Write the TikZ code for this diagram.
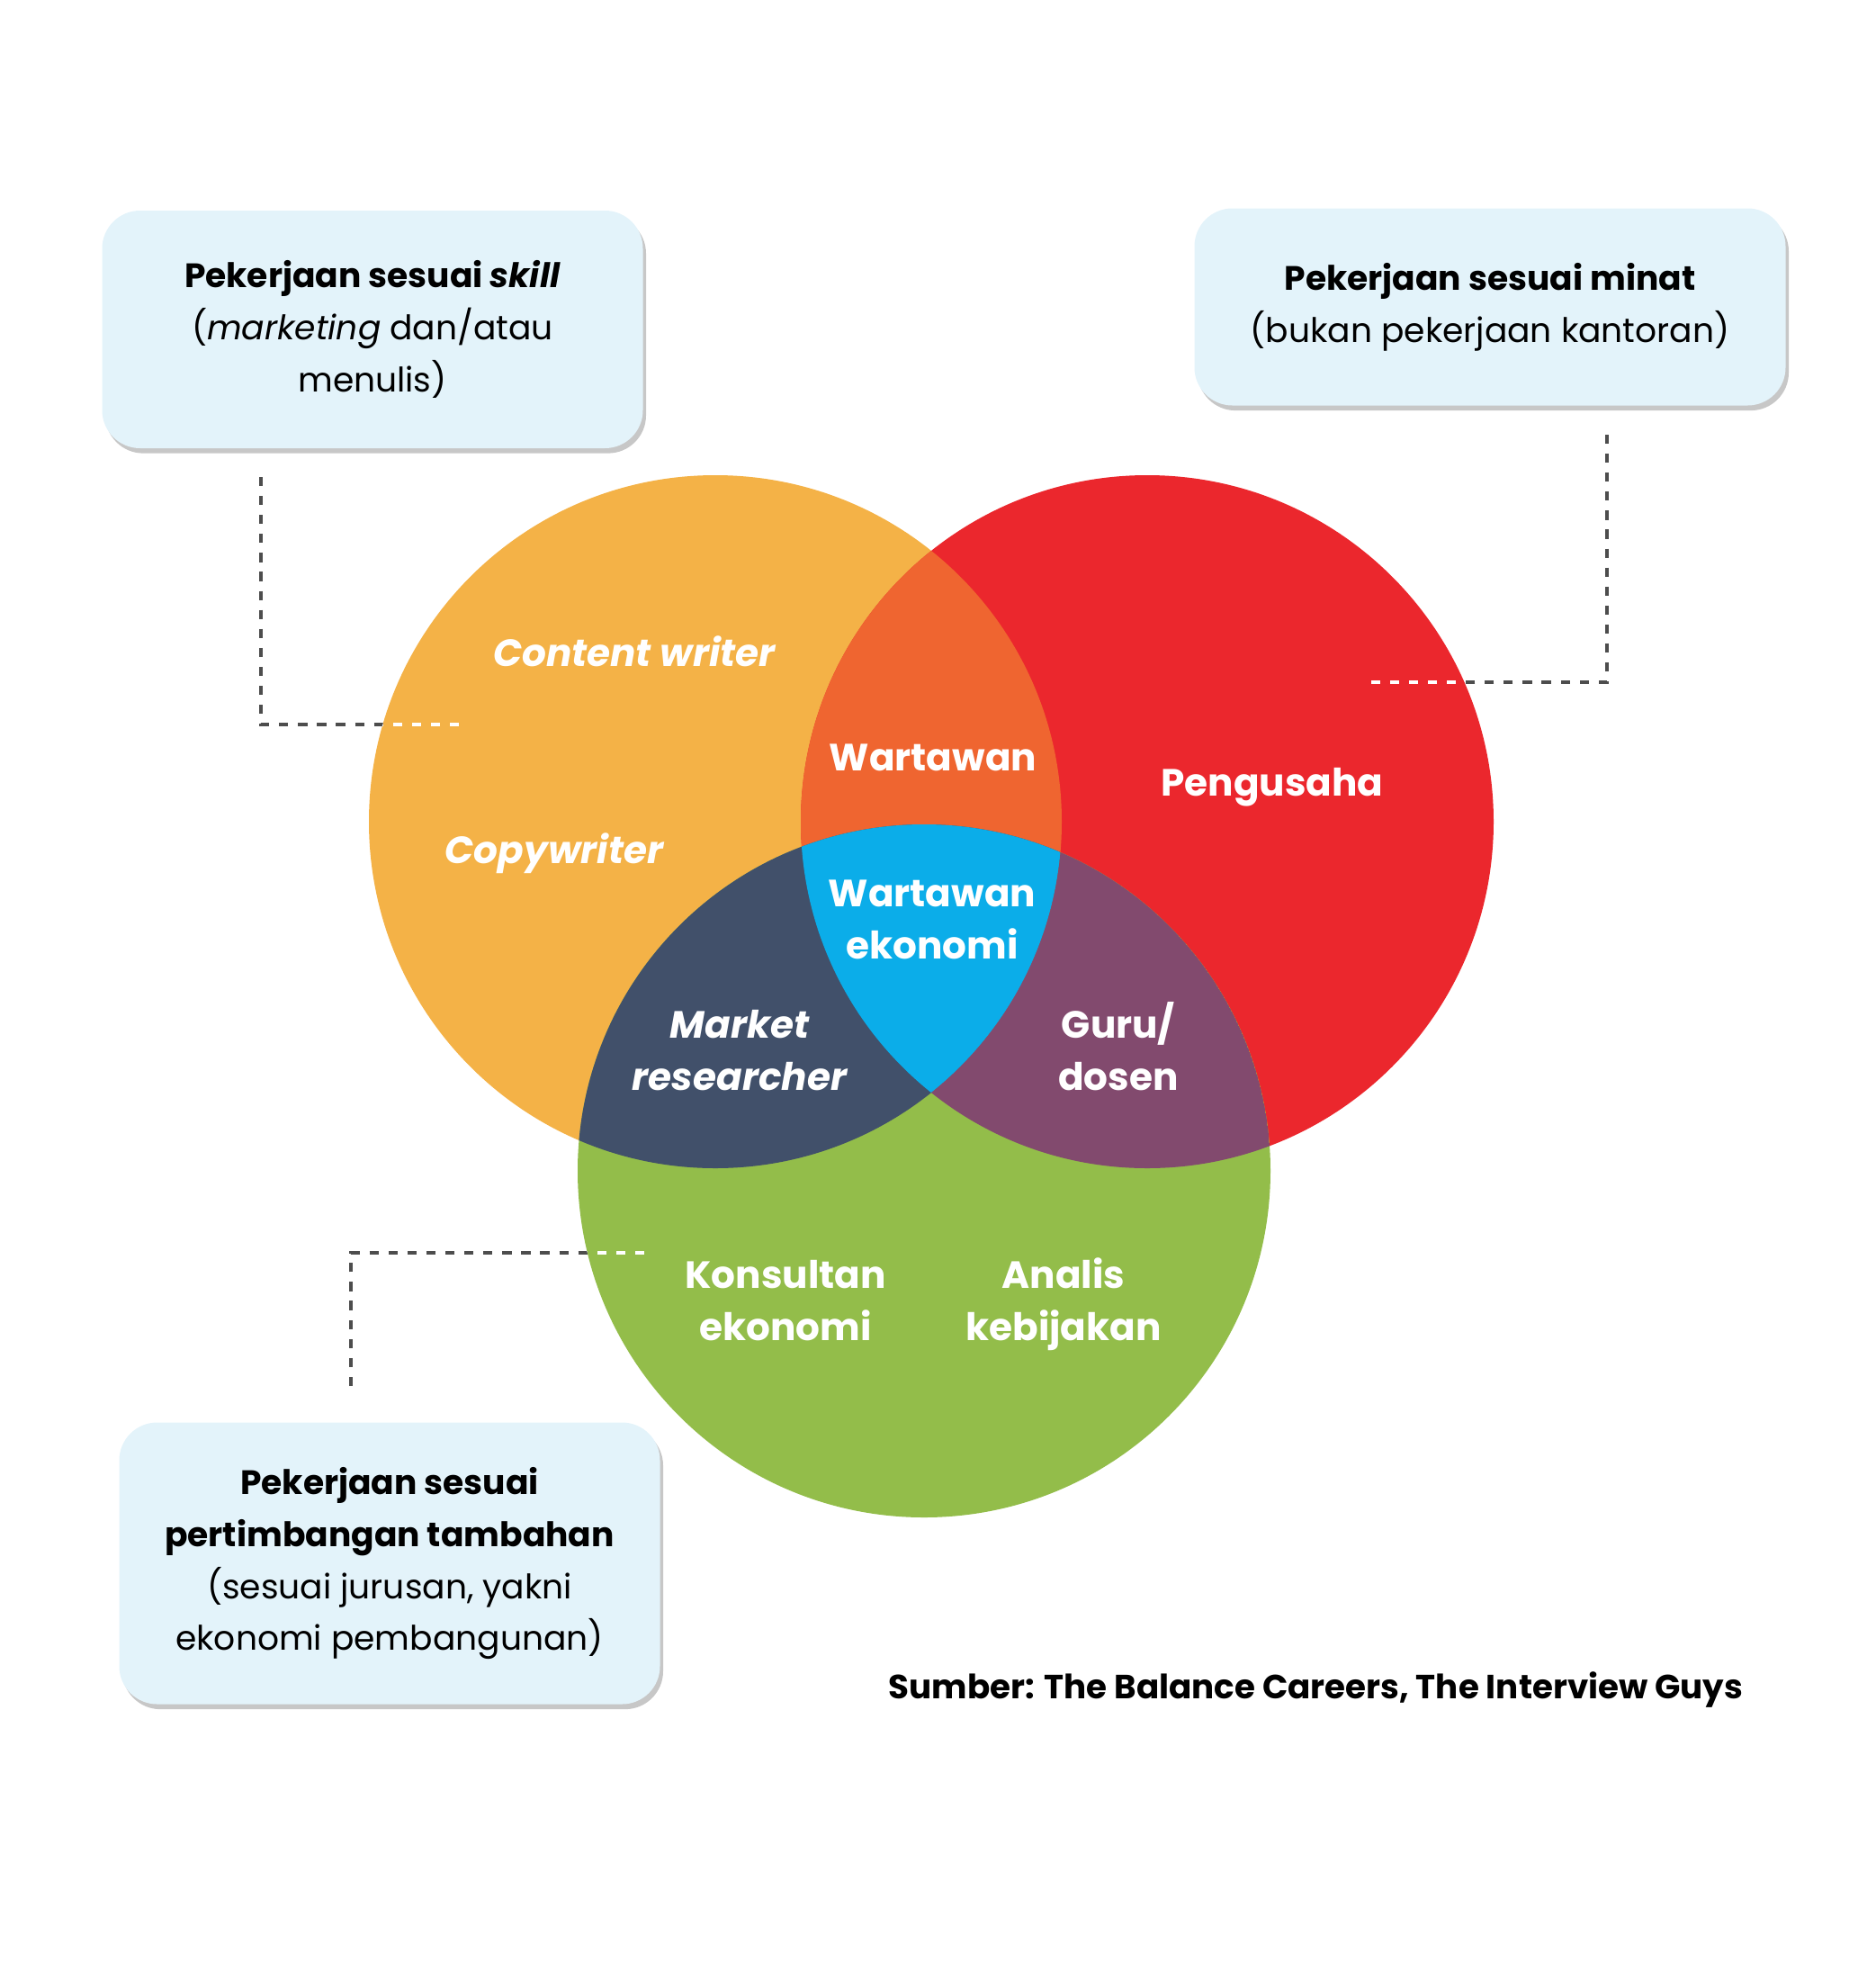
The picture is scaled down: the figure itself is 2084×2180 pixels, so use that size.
\documentclass[tikz,border=0pt]{standalone}
\usepackage{fontspec}
\setmainfont{Poppins}
\usetikzlibrary{shadows}

\definecolor{skillorange}{HTML}{F4B247}
\definecolor{minatred}{HTML}{EB272D}
\definecolor{jurusangreen}{HTML}{93BD4A}
\definecolor{skillminat}{HTML}{EF6530}
\definecolor{skilljurusan}{HTML}{41506A}
\definecolor{minatjurusan}{HTML}{824A6E}
\definecolor{allthree}{HTML}{0BADE9}
\definecolor{boxblue}{HTML}{E3F3FA}
\definecolor{dashgrey}{HTML}{4D4D4D}

\begin{document}
\begin{tikzpicture}[x=0.1mm,y=-0.1mm]
    \tikzstyle{infobox} = [fill=boxblue, rounded corners=12pt, align=center, inner sep=0pt,
        font=\fontsize{10.7}{16.5}\selectfont,
        drop shadow={shadow xshift=1pt, shadow yshift=-1.6pt, opacity=0.22, fill=black}]
    \tikzstyle{venntext} = [text=white, align=center, font=\bfseries\fontsize{12}{16.5}\selectfont]
    \tikzstyle{vennitalic} = [venntext, font=\bfseries\itshape\fontsize{12}{16.5}\selectfont]
    \tikzstyle{leader} = [dashgrey, line width=1pt, dash pattern=on 2.9pt off 3.1pt]
    \tikzstyle{leaderin} = [white, line width=1pt, dash pattern=on 2.9pt off 3.1pt]
    \useasboundingbox (0,0) rectangle (2084,2180);

    % Circle centres
    \coordinate (Skill) at (795,913);
    \coordinate (Minat) at (1275,913);
    \coordinate (Jurusan) at (1027,1301);

    % Three circles
    \fill [skillorange] (Skill) circle (385);
    \fill [minatred] (Minat) circle (385);
    \fill [jurusangreen] (Jurusan) circle (385);

    % Overlaps
    \begin{scope}
        \clip (Skill) circle (385);
        \fill [skillminat] (Minat) circle (385);
        \fill [skilljurusan] (Jurusan) circle (385);
        \clip (Minat) circle (385);
        \fill [allthree] (Jurusan) circle (385);
    \end{scope}
    \begin{scope}
        \clip (Minat) circle (385);
        \clip (Jurusan) circle (385);
        \clip (795,0) rectangle (2084,2180);
        \begin{scope}[even odd rule]
            \clip (Skill) circle (385) (0,0) rectangle (2084,2180);
            \fill [minatjurusan] (Jurusan) circle (385);
        \end{scope}
    \end{scope}

    % Labels in the circles
    \node [vennitalic] (ContentWriter) at (705,724) {Content writer};
    \node [vennitalic] (Copywriter) at (616,948) {Copywriter};
    \node [venntext] (Wartawan) at (1037,842) {Wartawan};
    \node [venntext] (Pengusaha) at (1414,875) {Pengusaha};
    \node [venntext] (WartawanEko) at (1036,1022) {Wartawan\\ekonomi};
    \node [vennitalic] (Market) at (822,1167) {Market\\researcher};
    \node [venntext] (Guru) at (1243,1163) {Guru/\\dosen};
    \node [venntext] (Konsultan) at (873,1445) {Konsultan\\ekonomi};
    \node [venntext] (Analis) at (1182,1449) {Analis\\kebijakan};

    % Top left box
    \node [infobox, minimum width=60.1mm, minimum height=26.4mm] (SkillBox) at (414,366)
        {\textbf{Pekerjaan sesuai \textit{skill}}\\(\textit{marketing} dan/atau\\menulis)};

    % Top right box
    \node [infobox, minimum width=65.7mm, minimum height=21.9mm] (MinatBox) at (1656,341)
        {\textbf{Pekerjaan sesuai minat}\\(bukan pekerjaan kantoran)};

    % Bottom left box
    \node [infobox, minimum width=60.1mm, minimum height=31.3mm] (JurusanBox) at (433,1737)
        {\textbf{Pekerjaan sesuai}\\\textbf{pertimbangan tambahan}\\(sesuai jurusan, yakni\\ekonomi pembangunan)};

    % Leader lines
    \coordinate (SkillTop) at (290,530);
    \coordinate (SkillEnd) at (518,805);
    \coordinate (MinatTop) at (1786,483);
    \coordinate (MinatEnd) at (1520,758);
    \coordinate (JurusanTop) at (390,1540);
    \coordinate (JurusanEnd) at (725,1392);
    \draw [leader] (SkillTop) |- (SkillEnd);
    \draw [leader] (MinatTop) |- (MinatEnd);
    \draw [leader] (JurusanTop) |- (JurusanEnd);
    \begin{scope}
        \clip (Skill) circle (385);
        \draw [leaderin] (SkillTop) |- (SkillEnd);
    \end{scope}
    \begin{scope}
        \clip (Minat) circle (385);
        \draw [leaderin] (MinatTop) |- (MinatEnd);
    \end{scope}
    \begin{scope}
        \clip (Jurusan) circle (385);
        \draw [leaderin] (JurusanTop) |- (JurusanEnd);
    \end{scope}

    % Source
    \node [anchor=east, font=\bfseries\fontsize{10.6}{13}\selectfont, inner sep=0pt] (Sumber) at (1938,1877)
        {Sumber: The Balance Careers, The Interview Guys};
\end{tikzpicture}
\end{document}
